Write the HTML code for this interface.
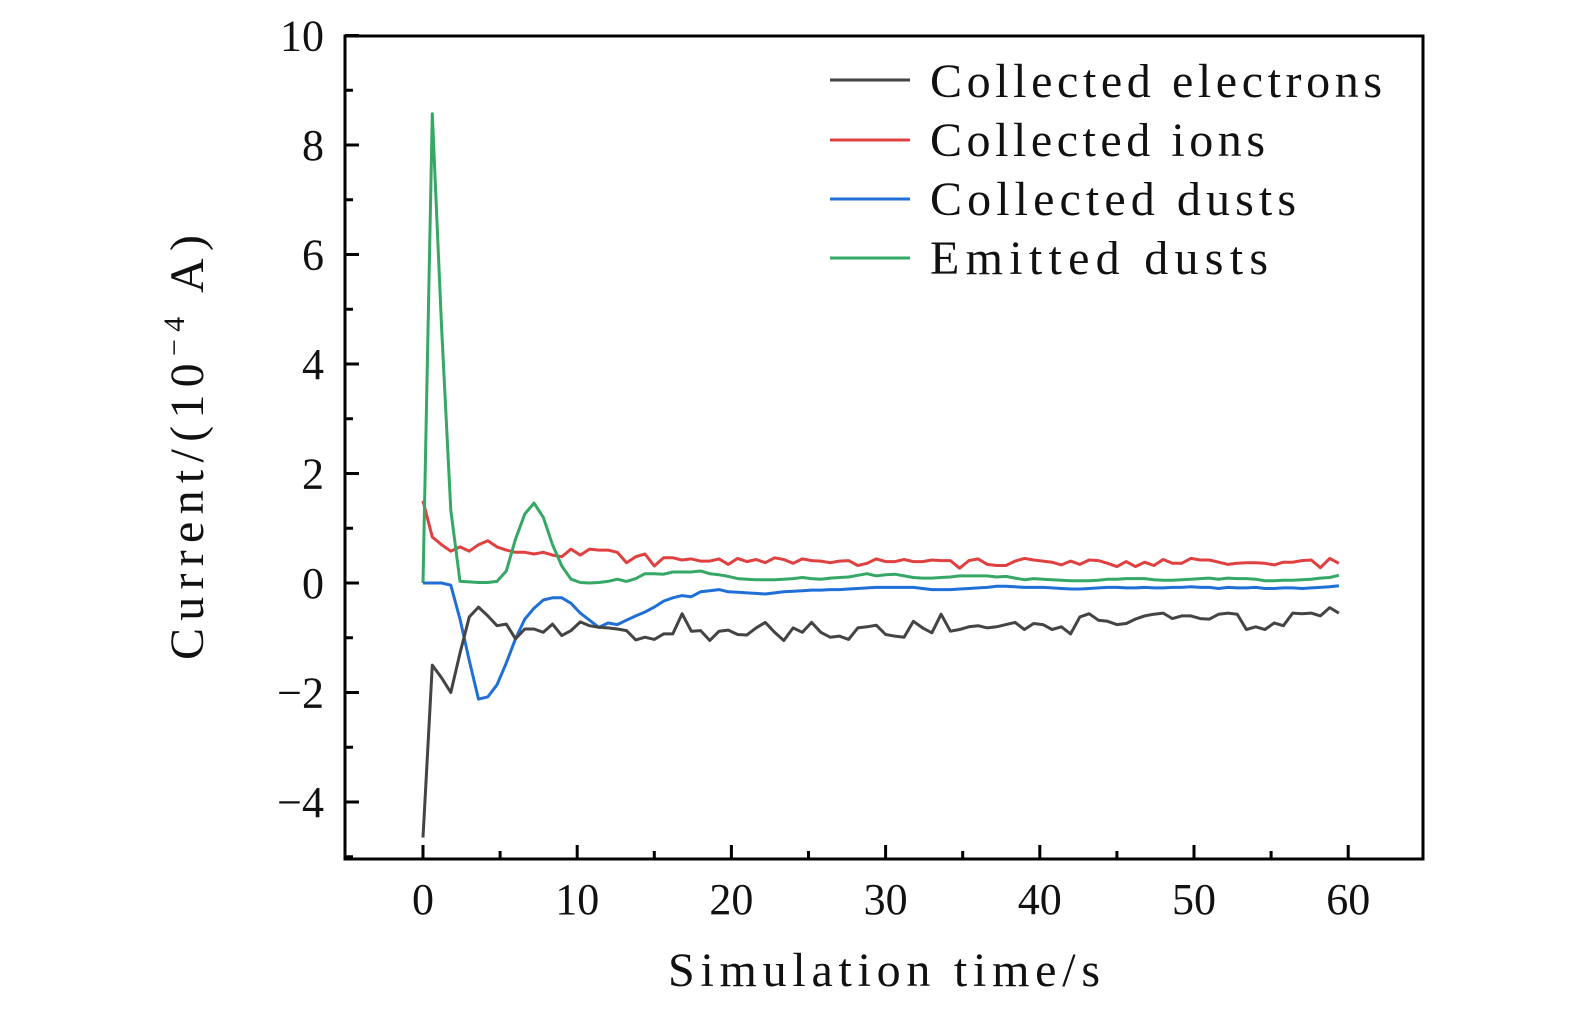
<!DOCTYPE html>
<html><head><meta charset="utf-8"><style>
html,body{margin:0;padding:0;background:#fff;}
svg{display:block;}
text{font-family:"Liberation Serif","DejaVu Serif",serif;fill:#111;}
</style></head><body>
<svg id="chart" width="1575" height="1014" viewBox="0 0 1575 1014" xmlns="http://www.w3.org/2000/svg">
<rect x="345" y="36" width="1078" height="823" fill="none" stroke="#000" stroke-width="3"/>
<g id="ticks"></g>
<g id="series"></g>
<text x="668" y="986" font-size="48" textLength="432" lengthAdjust="spacing">Simulation time/s</text>
<text transform="translate(203,660) rotate(-90)" font-size="48" textLength="425" lengthAdjust="spacing">Current/(10<tspan font-size="30" dy="-19">−4</tspan><tspan dy="19"> A)</tspan></text>
<g>
<line x1="830" y1="80" x2="910" y2="80" stroke="#444" stroke-width="3"/>
<text x="930" y="97" font-size="48" textLength="452" lengthAdjust="spacing">Collected electrons</text>
<line x1="830" y1="140" x2="910" y2="140" stroke="#e04040" stroke-width="3"/>
<text x="930" y="156" font-size="48" textLength="335" lengthAdjust="spacing">Collected ions</text>
<line x1="830" y1="199" x2="910" y2="199" stroke="#1f6fd6" stroke-width="3"/>
<text x="930" y="215" font-size="48" textLength="366" lengthAdjust="spacing">Collected dusts</text>
<line x1="830" y1="258" x2="910" y2="258" stroke="#35a865" stroke-width="3"/>
<text x="930" y="274" font-size="48" textLength="338" lengthAdjust="spacing">Emitted dusts</text>
</g>
</svg>
<script>
const xTicks = [0,10,20,30,40,50,60];
const yTicks = [-4,-2,0,2,4,6,8,10];
const yTickLabels = ["−4","−2","0","2","4","6","8","10"];
const timeStep = 0.6;
const electrons = [-4.65,-1.5,-1.73,-2.0,-1.28,-0.62,-0.44,-0.6,-0.78,-0.75,-1.02,-0.84,-0.84,-0.9,-0.75,-0.96,-0.87,-0.71,-0.78,-0.81,-0.82,-0.84,-0.87,-1.04,-0.99,-1.03,-0.93,-0.93,-0.56,-0.88,-0.87,
-1.05,-0.88,-0.86,-0.94,-0.95,-0.82,-0.72,-0.9,-1.05,-0.82,-0.9,-0.72,-0.9,-0.99,-0.97,-1.03,-0.82,-0.8,-0.77,-0.94,-0.97,-0.99,-0.7,-0.82,-0.91,-0.57,-0.88,-0.85,-0.8,-0.78,-0.82,
-0.8,-0.76,-0.72,-0.85,-0.74,-0.76,-0.85,-0.8,-0.93,-0.62,-0.56,-0.68,-0.7,-0.76,-0.74,-0.66,-0.6,-0.57,-0.55,-0.65,-0.6,-0.6,-0.65,-0.66,-0.57,-0.55,-0.57,-0.85,-0.8,-0.85,-0.73,-0.78,-0.55,-0.56,-0.55,-0.6,-0.45,-0.55];
const ions = [1.5,0.84,0.7,0.58,0.66,0.58,0.7,0.77,0.66,0.6,0.56,0.56,0.53,0.56,0.51,0.48,0.62,0.51,0.62,0.6,0.6,0.56,0.37,0.48,0.53,0.31,0.46,0.46,0.42,0.44,0.4,
0.4,0.44,0.34,0.45,0.39,0.43,0.37,0.46,0.43,0.36,0.44,0.41,0.4,0.37,0.4,0.41,0.32,0.36,0.44,0.39,0.39,0.43,0.39,0.39,0.42,0.41,0.41,0.27,0.41,0.44,0.34,
0.32,0.32,0.4,0.45,0.42,0.4,0.38,0.33,0.4,0.34,0.42,0.41,0.36,0.3,0.39,0.3,0.38,0.32,0.43,0.36,0.36,0.45,0.42,0.42,0.38,0.34,0.36,0.37,0.37,0.36,0.33,0.38,0.38,0.41,0.42,0.28,0.45,0.36];
const collectedDusts = [0,0,0,-0.04,-0.66,-1.42,-2.12,-2.08,-1.86,-1.46,-1.02,-0.66,-0.46,-0.31,-0.27,-0.27,-0.37,-0.55,-0.68,-0.81,-0.73,-0.76,-0.68,-0.6,-0.53,-0.44,-0.33,-0.27,-0.23,-0.25,-0.16,
-0.14,-0.12,-0.16,-0.17,-0.18,-0.19,-0.2,-0.18,-0.16,-0.15,-0.14,-0.13,-0.13,-0.12,-0.12,-0.11,-0.1,-0.09,-0.08,-0.08,-0.08,-0.08,-0.08,-0.1,-0.12,-0.12,-0.12,-0.11,-0.1,-0.09,-0.08,
-0.06,-0.06,-0.07,-0.08,-0.08,-0.08,-0.09,-0.1,-0.11,-0.11,-0.1,-0.09,-0.08,-0.08,-0.09,-0.09,-0.08,-0.09,-0.09,-0.08,-0.08,-0.07,-0.08,-0.08,-0.1,-0.08,-0.09,-0.09,-0.08,-0.1,-0.1,-0.09,-0.09,-0.1,-0.09,-0.08,-0.07,-0.05];
const emittedDusts = [0,8.57,4.7,1.33,0.03,0.02,0.01,0.01,0.03,0.22,0.8,1.26,1.46,1.2,0.7,0.31,0.07,0.01,0,0.01,0.03,0.07,0.03,0.08,0.17,0.17,0.16,0.2,0.2,0.2,0.22,
0.17,0.15,0.12,0.08,0.07,0.06,0.06,0.06,0.07,0.08,0.1,0.08,0.07,0.09,0.1,0.11,0.14,0.17,0.13,0.15,0.16,0.13,0.1,0.09,0.09,0.1,0.11,0.13,0.13,0.13,0.13,
0.11,0.12,0.09,0.06,0.08,0.07,0.06,0.05,0.04,0.04,0.04,0.05,0.07,0.07,0.08,0.08,0.08,0.06,0.05,0.05,0.06,0.07,0.08,0.09,0.07,0.09,0.08,0.08,0.07,0.04,0.04,0.05,0.05,0.06,0.07,0.09,0.1,0.14];

const NS = "http://www.w3.org/2000/svg";
const xPx = t => 423 + t * 15.42;
const yPx = v => 583 - v * 54.75;
const tk = document.getElementById('ticks');
function mk(tag, attrs, parent){const e=document.createElementNS(NS,tag);for(const k in attrs)e.setAttribute(k,attrs[k]);parent.appendChild(e);return e;}
xTicks.forEach((t,i)=>{
  const l=mk('line',{x1:xPx(t),x2:xPx(t),y1:859,y2:845,stroke:'#000','stroke-width':3},tk);
  
  
  if(i<xTicks.length-1){const m=mk('line',{x1:xPx(t+5),x2:xPx(t+5),y1:859,y2:851,stroke:'#000','stroke-width':3},tk);
  
  }
  const tx=mk('text',{x:xPx(t),y:914,'font-size':44,'text-anchor':'middle'},tk);
  tx.textContent=String(t);
  
  
});
yTicks.forEach((v,i)=>{
  const l=mk('line',{x1:345,x2:359,y1:yPx(v),y2:yPx(v),stroke:'#000','stroke-width':3},tk);
  
  
  const m=mk('line',{x1:345,x2:353,y1:yPx(v-1),y2:yPx(v-1),stroke:'#000','stroke-width':3},tk);
  
  
  const tx=mk('text',{x:324,y:yPx(v)+15,'font-size':44,'text-anchor':'end'},tk);
  tx.textContent=yTickLabels[i];
  
  
});
const sg=document.getElementById('series');
const defs=[[ions,'#e04040','series-collected-ions'],[emittedDusts,'#35a865','series-emitted-dusts'],[collectedDusts,'#1f6fd6','series-collected-dusts'],[electrons,'#444','series-collected-electrons']];
defs.forEach(([arr,col,name])=>{
  const pts=arr.map((v,i)=>xPx(i*timeStep).toFixed(1)+','+yPx(v).toFixed(1)).join(' ');
  const p=mk('polyline',{points:pts,fill:'none',stroke:col,'stroke-width':3,'stroke-linejoin':'round'},sg);
  
  
});
</script>
</body></html>
